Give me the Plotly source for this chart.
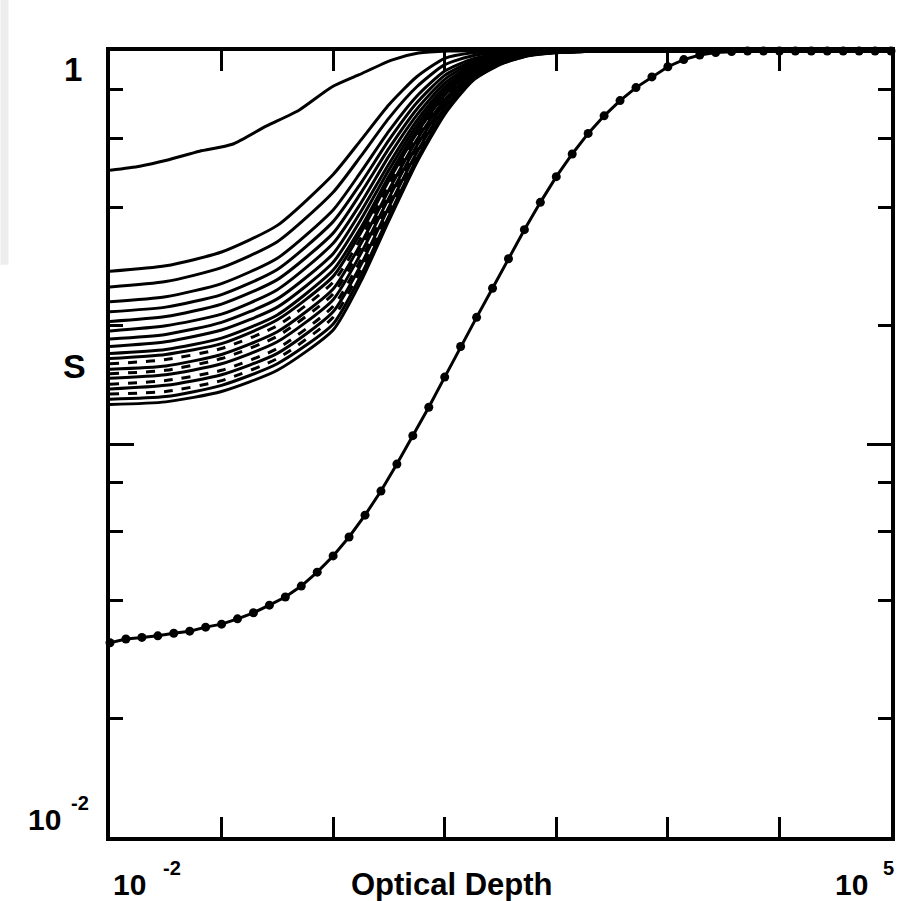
import plotly.graph_objects as go

# ---- optical-depth sampling for the family of source-function curves ----
tau_grid = [0.01, 0.0316, 0.1, 0.316, 1.0, 1.78, 3.16, 5.62, 10.0, 17.8, 31.6, 56.2, 100.0, 316.0, 1.0e5]

# upper single curve
s_upper = [0.497, 0.509, 0.527, 0.556, 0.579, 0.644, 0.707, 0.810, 0.869, 0.948, 0.988, 1.0, 1.0]
tau_upper = [0.01, 0.0185, 0.0322, 0.0635, 0.125, 0.251, 0.494, 0.973, 1.69, 3.34, 5.81, 10.7, 1.0e5]

# bundle of curves (top to bottom)
bundle = [
    [0.275, 0.284, 0.308, 0.360, 0.485, 0.594, 0.730, 0.860, 0.958, 0.990, 1.0, 1.0, 1.0, 1.0, 1.0],
    [0.251, 0.259, 0.281, 0.327, 0.437, 0.541, 0.675, 0.811, 0.923, 0.973, 0.991, 0.997, 1.0, 1.0, 1.0],
    [0.230, 0.237, 0.256, 0.297, 0.394, 0.493, 0.625, 0.767, 0.889, 0.955, 0.982, 0.994, 0.998, 1.0, 1.0],
    [0.217, 0.223, 0.240, 0.278, 0.368, 0.462, 0.593, 0.738, 0.867, 0.942, 0.977, 0.991, 0.997, 1.0, 1.0],
    [0.205, 0.211, 0.227, 0.262, 0.344, 0.436, 0.565, 0.711, 0.847, 0.931, 0.971, 0.990, 0.997, 1.0, 1.0],
    [0.194, 0.200, 0.214, 0.247, 0.324, 0.411, 0.540, 0.687, 0.828, 0.920, 0.966, 0.988, 0.996, 1.0, 1.0],
    [0.185, 0.190, 0.204, 0.234, 0.305, 0.391, 0.516, 0.665, 0.811, 0.910, 0.962, 0.986, 0.995, 1.0, 1.0],
    [0.177, 0.182, 0.195, 0.223, 0.290, 0.373, 0.498, 0.647, 0.796, 0.902, 0.957, 0.984, 0.995, 1.0, 1.0],
    [0.170, 0.174, 0.186, 0.213, 0.277, 0.356, 0.480, 0.630, 0.782, 0.895, 0.953, 0.984, 0.994, 1.0, 1.0],
    [0.165, 0.169, 0.180, 0.207, 0.267, 0.346, 0.468, 0.618, 0.773, 0.889, 0.951, 0.982, 0.994, 1.0, 1.0],
    [0.160, 0.164, 0.175, 0.200, 0.258, 0.335, 0.456, 0.607, 0.764, 0.883, 0.947, 0.982, 0.993, 1.0, 1.0],
    [0.155, 0.158, 0.169, 0.193, 0.248, 0.324, 0.443, 0.594, 0.753, 0.877, 0.944, 0.980, 0.993, 1.0, 1.0],
    [0.151, 0.154, 0.165, 0.188, 0.241, 0.316, 0.434, 0.585, 0.745, 0.873, 0.942, 0.979, 0.993, 1.0, 1.0],
    [0.147, 0.150, 0.160, 0.182, 0.233, 0.306, 0.423, 0.574, 0.736, 0.867, 0.940, 0.977, 0.993, 1.0, 1.0],
    [0.142, 0.145, 0.154, 0.175, 0.224, 0.295, 0.410, 0.561, 0.726, 0.861, 0.936, 0.977, 0.992, 1.0, 1.0],
    [0.138, 0.141, 0.150, 0.170, 0.217, 0.286, 0.401, 0.552, 0.718, 0.855, 0.933, 0.975, 0.992, 1.0, 1.0],
    [0.134, 0.136, 0.145, 0.165, 0.210, 0.278, 0.391, 0.541, 0.708, 0.851, 0.931, 0.975, 0.992, 1.0, 1.0],
    [0.130, 0.132, 0.141, 0.160, 0.202, 0.269, 0.380, 0.531, 0.700, 0.845, 0.927, 0.974, 0.991, 1.0, 1.0],
    [0.126, 0.128, 0.136, 0.154, 0.195, 0.260, 0.370, 0.520, 0.690, 0.840, 0.925, 0.972, 0.990, 1.0, 1.0],
]
bundle_dash = [
    "solid", "solid", "solid", "solid", "solid", "solid", "solid", "solid", "solid", "solid",
    "dash", "solid", "dash", "solid", "dash", "solid", "dash", "solid", "solid",
]

# lower curve with computed points (7 per decade)
tau_dots = [
    0.01, 0.01389, 0.01931, 0.02683, 0.03728, 0.05179, 0.07197,
    0.1, 0.1389, 0.1931, 0.2683, 0.3728, 0.5179, 0.7197,
    1.0, 1.389, 1.931, 2.683, 3.728, 5.179, 7.197,
    10.0, 13.89, 19.31, 26.83, 37.28, 51.79, 71.97,
    100.0, 138.9, 193.1, 268.3, 372.8, 517.9, 719.7,
    1000.0, 1389.0, 1931.0, 2683.0, 3728.0, 5179.0, 7197.0,
    10000.0, 13890.0, 19310.0, 26830.0, 37280.0, 51790.0, 71970.0,
    100000.0,
]
s_dots = [
    0.0312, 0.0319, 0.0322, 0.0325, 0.0330, 0.0334, 0.0342,
    0.0348, 0.0359, 0.0372, 0.0389, 0.0408, 0.0435, 0.0472,
    0.0519, 0.0580, 0.0659, 0.0759, 0.0889, 0.105, 0.124,
    0.148, 0.177, 0.210, 0.249, 0.296, 0.351, 0.412,
    0.479, 0.547, 0.617, 0.684, 0.748, 0.807, 0.859,
    0.912, 0.951, 0.977, 0.991, 0.997, 1.0, 1.0,
    1.0, 1.0, 1.0, 1.0, 1.0, 1.0, 1.0,
    1.0,
]

x_tickvals = [1e-2, 1e-1, 1e0, 1e1, 1e2, 1e3, 1e4, 1e5]
y_tickvals = [1e-2, 1e-1, 1e0]
y_minorvals = [0.02, 0.04, 0.06, 0.08, 0.2, 0.4, 0.6, 0.8]

fig = go.Figure()

fig.add_trace(go.Scatter(
    x=tau_upper, y=s_upper, mode="lines",
    line=dict(color="black", width=3.0, shape="spline", smoothing=0.6),
    showlegend=False, hoverinfo="skip",
))

for vals, dash in zip(bundle, bundle_dash):
    fig.add_trace(go.Scatter(
        x=tau_grid, y=vals, mode="lines",
        line=dict(color="black", width=3.0, dash=dash, shape="spline", smoothing=0.6),
        showlegend=False, hoverinfo="skip",
    ))

fig.add_trace(go.Scatter(
    x=tau_dots, y=s_dots, mode="lines+markers",
    line=dict(color="black", width=3.0),
    marker=dict(symbol="circle", size=9, color="black"),
    cliponaxis=False, showlegend=False, hoverinfo="skip",
))

font = "Liberation Sans, Arial, Helvetica, sans-serif"

fig.update_layout(
    width=899, height=901,
    margin=dict(l=110, r=4, t=51, b=64),
    paper_bgcolor="white", plot_bgcolor="white",
    xaxis=dict(
        type="log", range=[-2, 5], showgrid=False, zeroline=False,
        showline=True, linecolor="black", linewidth=3.5, mirror="allticks",
        ticks="inside", tickvals=x_tickvals, ticklen=20, tickwidth=2.5, tickcolor="black",
        showticklabels=False,
    ),
    yaxis=dict(
        type="log", range=[-2, 0], showgrid=False, zeroline=False,
        showline=True, linecolor="black", linewidth=3.5, mirror="allticks",
        ticks="inside", tickvals=y_tickvals, ticklen=24, tickwidth=2.5, tickcolor="black",
        minor=dict(ticks="inside", tickmode="array", tickvals=y_minorvals, ticklen=13,
                   tickwidth=2.5, tickcolor="black", showgrid=False),
        showticklabels=False,
    ),
    shapes=[
        # faint grey page edge at the upper left
        dict(type="rect", xref="paper", yref="paper", x0=-0.1401, x1=-0.1299, y0=0.728, y1=1.066,
             fillcolor="#ededed", line=dict(width=0), layer="below"),
    ],
)

def label(text, x, y, size):
    fig.add_annotation(
        text=text, x=x, y=y, xref="paper", yref="paper",
        xanchor="center", yanchor="middle", showarrow=False,
        font=dict(family=font, size=size, color="black", weight="bold"),
    )

label("1", -0.047, 0.976, 33)
label("S", -0.045, 0.599, 34)
label("10", -0.084, 0.022, 30)
label("-2", -0.038, 0.043, 20)
label("10", 0.025, -0.061, 30)
label("-2", 0.079, -0.039, 20)
label("10", 0.949, -0.061, 30)
label("5", 0.997, -0.039, 20)
label("Optical Depth", 0.438, -0.060, 31)

fig.write_html("out.html")
